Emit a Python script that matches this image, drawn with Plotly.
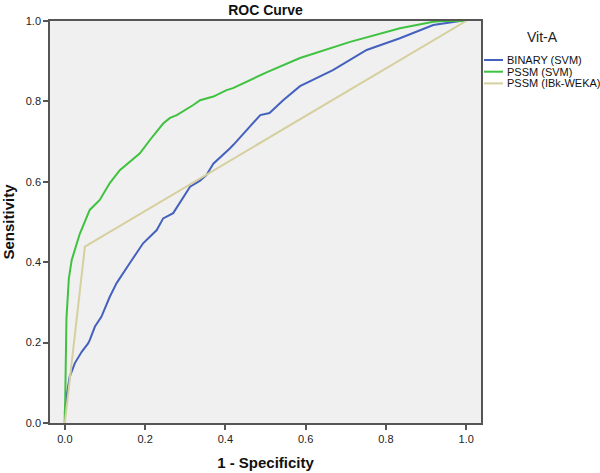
import plotly.graph_objects as go

# BINARY (SVM)
binary_x = [0.0, 0.0, 0.004, 0.012, 0.025, 0.042, 0.058, 0.062, 0.075, 0.091, 0.112, 0.129, 0.162,
            0.195, 0.229, 0.245, 0.27, 0.303, 0.312, 0.337, 0.353, 0.37, 0.378, 0.411, 0.42,
            0.47, 0.487, 0.51, 0.544, 0.586, 0.668, 0.752, 0.835, 0.918, 0.985, 1.0]
binary_y = [0.0, 0.03, 0.065, 0.115, 0.149, 0.177, 0.198, 0.206, 0.24, 0.264, 0.314, 0.348, 0.398,
            0.447, 0.48, 0.509, 0.522, 0.576, 0.588, 0.603, 0.617, 0.645, 0.652, 0.683, 0.692,
            0.746, 0.766, 0.771, 0.803, 0.838, 0.878, 0.928, 0.957, 0.99, 1.0, 1.0]

# PSSM (SVM)
pssm_svm_x = [0.0, 0.001, 0.004, 0.01, 0.017, 0.037, 0.054, 0.062, 0.087, 0.096, 0.112, 0.137,
              0.187, 0.212, 0.245, 0.262, 0.279, 0.32, 0.337, 0.37, 0.403, 0.419, 0.504, 0.586,
              0.711, 0.835, 0.918, 0.943, 1.0]
pssm_svm_y = [0.0, 0.06, 0.26, 0.36, 0.405, 0.47, 0.509, 0.53, 0.555, 0.571, 0.597, 0.629,
              0.671, 0.704, 0.745, 0.759, 0.766, 0.791, 0.803, 0.812, 0.828, 0.833, 0.873, 0.908,
              0.948, 0.982, 0.998, 1.0, 1.0]

# PSSM (IBk-WEKA)
pssm_ibk_x = [0.0, 0.05, 1.0]
pssm_ibk_y = [0.0, 0.439, 1.0]

series_names = ["BINARY (SVM)", "PSSM (SVM)", "PSSM (IBk-WEKA)"]
series_colors = ["#4561be", "#3fc23f", "#d6cf9e"]
legend_title = "Vit-A"

x_ticks = [0.0, 0.2, 0.4, 0.6, 0.8, 1.0]
y_ticks = [0.0, 0.2, 0.4, 0.6, 0.8, 1.0]

W, H = 600, 473
L, R, T, B = 50, 481, 21, 423  # plot area in pixels

fig = go.Figure()
for xs, ys, name, col in zip([binary_x, pssm_svm_x, pssm_ibk_x],
                             [binary_y, pssm_svm_y, pssm_ibk_y],
                             series_names, series_colors):
    fig.add_trace(go.Scatter(x=xs, y=ys, mode="lines", name=name, showlegend=False,
                             line=dict(color=col, width=2)))

font_fam = "Arial, Liberation Sans, sans-serif"
axis_common = dict(showgrid=False, zeroline=False, showline=True, linecolor="#555555",
                   linewidth=1.5, mirror=True, ticks="outside", ticklen=5, tickwidth=1.5,
                   tickcolor="#555555", tickformat=".1f", automargin=False,
                   tickfont=dict(family=font_fam, size=11, color="#222222"))

fig.update_xaxes(range=[-0.037, 1.037], tickvals=x_ticks,
                 title=dict(text="<b>1 - Specificity</b>", standoff=14,
                            font=dict(family=font_fam, size=15, color="#111111")),
                 **axis_common)
fig.update_yaxes(range=[0, 1], tickvals=y_ticks,
                 title=dict(text="<b>Sensitivity</b>", standoff=12,
                            font=dict(family=font_fam, size=15, color="#111111")),
                 **axis_common)


def px_to_paper(px, py):
    return (px - L) / (R - L), (B - py) / (B - T)


# manual legend (compact, as in the reference)
shapes = []
annotations = []
tx, ty = px_to_paper(542, 37)
annotations.append(dict(text=legend_title, x=tx, y=ty, xref="paper", yref="paper",
                        xanchor="center", yanchor="middle", showarrow=False,
                        font=dict(family=font_fam, size=14, color="#222222")))
for i, (name, col) in enumerate(zip(series_names, series_colors)):
    py = 60 + i * 11.7
    x0, y0 = px_to_paper(484, py)
    x1, _ = px_to_paper(503, py)
    shapes.append(dict(type="line", xref="paper", yref="paper", x0=x0, x1=x1, y0=y0, y1=y0,
                       line=dict(color=col, width=2)))
    xt, _ = px_to_paper(505, py)
    annotations.append(dict(text=name, x=xt, y=y0, xref="paper", yref="paper",
                            xanchor="left", yanchor="middle", showarrow=False,
                            font=dict(family=font_fam, size=11, color="#111111")))

fig.update_layout(
    width=W, height=H,
    margin=dict(l=L, r=W - R, t=T, b=H - B),
    paper_bgcolor="white", plot_bgcolor="#f0f0f0",
    showlegend=False,
    title=dict(text="<b>ROC Curve</b>", x=(L + R) / 2 / W, xanchor="center",
               y=1 - 10 / H, yanchor="middle",
               font=dict(family=font_fam, size=14, color="#111111")),
    shapes=shapes,
    annotations=annotations,
)

fig.write_html("out.html", config={"displayModeBar": False},
               post_script="document.body.style.margin='0';document.body.style.overflow='hidden';")
